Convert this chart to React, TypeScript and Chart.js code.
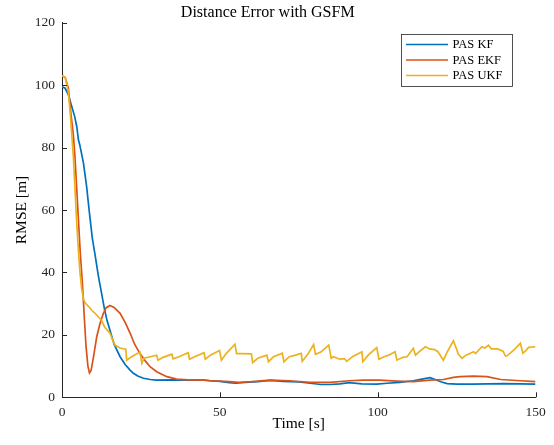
import React, { useEffect, useRef } from "react";
import { Chart, registerables } from "chart.js";

Chart.register(...registerables);

const chartTitle = "Distance Error with GSFM";
const xAxisTitle = "Time [s]";
const yAxisTitle = "RMSE [m]";
const seriesNames = ["PAS KF", "PAS EKF", "PAS UKF"];
const seriesColors = ["#0072BD", "#D95319", "#EDB120"];
const xTicks = [0, 50, 100, 150];
const yTicks = [0, 20, 40, 60, 80, 100, 120];

const kfTime = [0, 1, 2, 3, 4, 4.7, 5.2, 5.6, 6.8, 7.8, 8.7, 9.6, 10.5, 11.5, 12.6, 13.5, 14.3, 15.2, 16.5, 18.4, 20, 21.5, 22.6, 24, 25.8, 28, 30, 35, 40, 45, 47, 50, 53, 55, 58, 62, 66, 70, 75, 78.6, 82, 85, 88, 91, 95, 99.7, 103, 107, 111.3, 114, 116.6, 118, 120, 122, 125, 130, 135, 140, 145, 150];
const kfRmse = [99.5, 99, 97, 93.5, 90, 86.6, 82.5, 81, 75, 67.5, 59, 51, 45.5, 39, 33, 28, 24.5, 21.5, 17, 13, 10.5, 8.8, 7.7, 6.8, 6.1, 5.7, 5.5, 5.6, 5.5, 5.5, 5.3, 5.1, 4.7, 4.5, 4.8, 5, 5.4, 5.1, 4.9, 4.5, 4.1, 4.1, 4.3, 4.7, 4.3, 4.2, 4.5, 4.8, 5.3, 5.8, 6.3, 5.8, 5, 4.4, 4.2, 4.2, 4.3, 4.4, 4.3, 4.2];

const ekfTime = [0, 1, 2, 2.7, 3.6, 4.1, 4.6, 5.2, 5.8, 6.5, 7.1, 7.6, 8.2, 8.7, 9.2, 10, 11, 12, 13.1, 14, 15.2, 16.5, 18.4, 20, 21.6, 23, 24.7, 26.5, 27.9, 30, 33.2, 36.3, 40, 45, 47, 50, 53, 56, 60, 66, 72, 78.6, 85, 91, 95.5, 100.6, 106, 111.3, 116.6, 120.8, 124, 126.1, 130.4, 134.6, 139, 145.2, 150];
const ekfRmse = [103, 102.5, 99, 92, 84, 77, 68, 57, 46, 36, 25, 16.5, 10, 7.8, 8.5, 13, 19.4, 23.5, 26.9, 28.7, 29.4, 28.8, 26.9, 24, 20.5, 17, 14, 11.5, 9.8, 8.2, 6.6, 5.8, 5.6, 5.5, 5.3, 5.2, 5, 4.8, 5, 5.5, 5.3, 4.8, 4.8, 5.3, 5.5, 5.5, 5.2, 5, 5.5, 5.7, 6.4, 6.6, 6.8, 6.6, 5.7, 5.3, 5];

const ukfTime = [0, 1, 2, 2.6, 3.1, 3.6, 4.1, 4.6, 5.2, 5.7, 6.2, 6.8, 7.3, 8.5, 9.5, 10.4, 11.5, 12.6, 13.5, 15.2, 16.2, 16.8, 18.4, 20.2, 20.5, 22, 24.7, 25.3, 26, 28, 30, 30.4, 32, 34.8, 35.2, 37, 40, 40.4, 42, 45, 45.4, 47, 49.9, 50.5, 52, 54.8, 55.3, 57, 60, 60.4, 62, 64.9, 65.4, 67, 69.8, 70.3, 72, 74, 75.8, 76.1, 78, 79.7, 80.3, 82, 84.5, 85.3, 86, 88, 89.5, 90.2, 92, 95, 95.3, 97, 99.7, 100.4, 102, 103.5, 105.5, 106.1, 108, 109.3, 111.3, 112, 113, 115.1, 116.5, 118, 119.1, 120.8, 122, 124, 125.6, 126.7, 128, 130.4, 131, 133, 134, 135.1, 136, 138, 139.7, 140.5, 141, 143, 145.2, 146, 147, 147.8, 150];
const ukfRmse = [103, 102.5, 98, 91, 84, 77, 67, 57, 47, 40, 35, 31.5, 30.3, 29, 27.8, 27, 25.8, 24.5, 22.5, 20.5, 18, 16.7, 15.8, 15.4, 11.9, 13, 14.5, 10.9, 12.5, 13, 13.5, 11.9, 12.8, 13.8, 12.3, 13, 14.3, 12.2, 13, 14.3, 12.2, 13.5, 15, 11.9, 14, 17, 14, 14, 13.9, 11.1, 12.5, 13.5, 11.4, 13, 14.1, 11.4, 13, 13.5, 14.1, 11.5, 14, 16.9, 13.8, 14.5, 16.7, 12.5, 13, 12.2, 12.4, 11.5, 13, 14.6, 11.4, 13.5, 15.9, 12.2, 13, 13.5, 14.6, 11.9, 12.8, 13, 15.7, 13.5, 14.5, 16.2, 15.5, 15.3, 14.6, 11.9, 14.5, 18.1, 13.8, 12.5, 13.5, 14.6, 14, 16.2, 15.8, 16.7, 15.5, 15.5, 14.8, 13.2, 13.3, 15, 17.3, 14.1, 15, 16, 16.2];

const AXIS_COLOR = "#262626";
const SERIF = "'Liberation Serif', 'Times New Roman', serif";

const toPoints = (xs: number[], ys: number[]) => xs.map((x, i) => ({ x, y: ys[i] }));

const inwardTicks = {
  id: "inwardTicks",
  afterDatasetsDraw(chart: any) {
    const { ctx, chartArea, scales } = chart;
    const len = 5;
    ctx.save();
    ctx.strokeStyle = AXIS_COLOR;
    ctx.lineWidth = 1;
    ctx.beginPath();
    xTicks.forEach((v) => {
      const px = Math.round(scales.x.getPixelForValue(v)) + 0.5;
      ctx.moveTo(px, chartArea.bottom);
      ctx.lineTo(px, chartArea.bottom - len);
    });
    yTicks.forEach((v) => {
      const py = Math.round(scales.y.getPixelForValue(v)) + 0.5;
      ctx.moveTo(chartArea.left, py);
      ctx.lineTo(chartArea.left + len, py);
    });
    ctx.stroke();
    ctx.restore();
  },
};

const boxedLegend = {
  id: "boxedLegend",
  afterDraw(chart: any) {
    const { ctx, chartArea } = chart;
    const w = 111;
    const h = 52;
    const right = chartArea.right - 23.5;
    const left = right - w;
    const top = chartArea.top + 11.3;
    ctx.save();
    ctx.fillStyle = "#ffffff";
    ctx.fillRect(left, top, w, h);
    ctx.strokeStyle = AXIS_COLOR;
    ctx.lineWidth = 0.8;
    ctx.strokeRect(left + 0.5, top + 0.5, w, h);
    ctx.font = `12.5px ${SERIF}`;
    ctx.textBaseline = "middle";
    ctx.textAlign = "left";
    seriesNames.forEach((name, i) => {
      const y = top + 10.5 + i * 15.5;
      ctx.strokeStyle = seriesColors[i];
      ctx.lineWidth = 1.7;
      ctx.beginPath();
      ctx.moveTo(left + 5, y);
      ctx.lineTo(left + 47, y);
      ctx.stroke();
      ctx.fillStyle = "#000000";
      ctx.fillText(name, left + 51.5, y + 0.5);
    });
    ctx.restore();
  },
};

export default function App() {
  const canvasRef = useRef<HTMLCanvasElement | null>(null);

  useEffect(() => {
    if (!canvasRef.current) return;
    const series = [
      { t: kfTime, v: kfRmse, order: 3 },
      { t: ekfTime, v: ekfRmse, order: 2 },
      { t: ukfTime, v: ukfRmse, order: 1 },
    ];
    const chart = new Chart(canvasRef.current, {
      type: "line",
      data: {
        datasets: series.map((s, i) => ({
          label: seriesNames[i],
          data: toPoints(s.t, s.v),
          borderColor: seriesColors[i],
          backgroundColor: seriesColors[i],
          borderWidth: 1.7,
          pointRadius: 0,
          tension: 0,
          fill: false,
          order: s.order,
        })),
      },
      options: {
        animation: false,
        responsive: false,
        maintainAspectRatio: false,
        layout: { padding: { left: 0, right: 18.5, top: 0, bottom: 0 } },
        plugins: {
          legend: { display: false },
          tooltip: { enabled: false },
          title: {
            display: true,
            text: chartTitle,
            color: "#000000",
            font: { family: SERIF, size: 16, weight: "normal", lineHeight: 1.2 },
            padding: { top: 2.9, bottom: 0.6 },
          },
        },
        scales: {
          x: {
            type: "linear",
            min: 0,
            max: 150,
            afterFit: (scale: any) => {
              scale.height = 47.7;
            },
            afterBuildTicks: (scale: any) => {
              scale.ticks = xTicks.map((v) => ({ value: v }));
            },
            grid: { display: false, drawTicks: false },
            border: { display: true, color: AXIS_COLOR, width: 1 },
            ticks: {
              color: "#262626",
              padding: 7.5,
              maxRotation: 0,
              font: { family: SERIF, size: 13.5 },
            },
            title: {
              display: true,
              text: xAxisTitle,
              color: "#000000",
              font: { family: SERIF, size: 15.5, lineHeight: 1.2 },
              padding: { top: 0, bottom: 11.5 },
            },
          },
          y: {
            type: "linear",
            min: 0,
            max: 120,
            afterFit: (scale: any) => {
              scale.width = 62;
            },
            afterBuildTicks: (scale: any) => {
              scale.ticks = yTicks.map((v) => ({ value: v }));
            },
            grid: { display: false, drawTicks: false },
            border: { display: true, color: AXIS_COLOR, width: 1 },
            ticks: {
              color: "#262626",
              padding: 7,
              font: { family: SERIF, size: 13.5 },
            },
            title: {
              display: true,
              text: yAxisTitle,
              color: "#000000",
              font: { family: SERIF, size: 15.5, lineHeight: 1.2 },
              padding: { top: 12.5, bottom: 0 },
            },
          },
        },
      },
      plugins: [inwardTicks, boxedLegend],
    });
    return () => chart.destroy();
  }, []);

  return (
    <div style={{ position: "fixed", left: 0, top: 0, width: 554, height: 445, background: "#ffffff" }}>
      <canvas ref={canvasRef} width={554} height={445} style={{ width: 554, height: 445, display: "block" }} />
    </div>
  );
}
